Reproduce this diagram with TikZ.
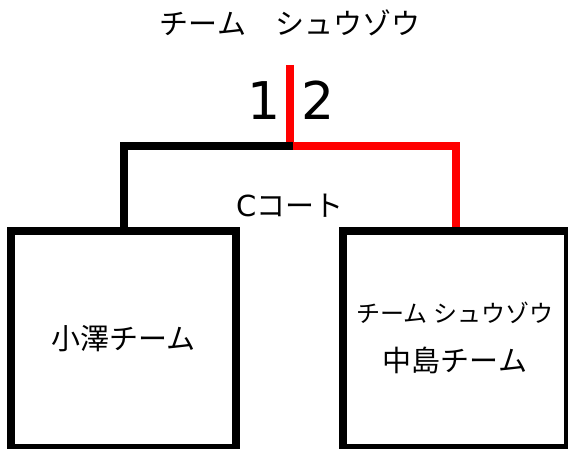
\documentclass[tikz,border=0pt]{standalone}
\usepackage{fontspec}
\newfontfamily\jp{Noto Sans CJK JP}
\newfontfamily\dv{DejaVu Sans}
\begin{document}
\begin{tikzpicture}[x=1pt,y=-1pt,
  teambox/.style={draw=black, line width=8pt, minimum width=225pt, minimum height=217pt, inner sep=0pt},
  blackline/.style={draw=black, line width=8pt},
  redline/.style={draw=red, line width=8pt},
  label/.style={inner sep=0pt, anchor=base},
  bigjp/.style={label, font=\jp\fontsize{29}{29}\selectfont},
  smalljp/.style={label, font=\jp\fontsize{24}{24}\selectfont},
  digit/.style={label, font=\dv\fontsize{52}{52}\selectfont}]
\useasboundingbox (0,0) rectangle (568,449);
\node[teambox] (lbox) at (123.5,339.5) {};
\node[teambox] (rbox) at (455.5,339.5) {};
\coordinate (top) at (290,65);
\coordinate (j) at (290,146);
\coordinate (jb) at (293,146);
\draw[redline] (top) -- (j) -| (rbox.north);
\draw[blackline] (lbox.north) |- (jb);
\node[bigjp] (title) at (290,35) {チーム　シュウゾウ};
\node[digit] (one) at (264,120) {1};
\node[digit] (two) at (318,120) {2};
\node[bigjp] (court) at (290,217) {{\dv C}コート};
\node[bigjp] (ozawa) at (123.5,349) {小澤チーム};
\node[smalljp] (rsub) at (455,323) {チーム シュウゾウ};
\node[bigjp] (naka) at (455,371) {中島チーム};
\end{tikzpicture}
\end{document}
